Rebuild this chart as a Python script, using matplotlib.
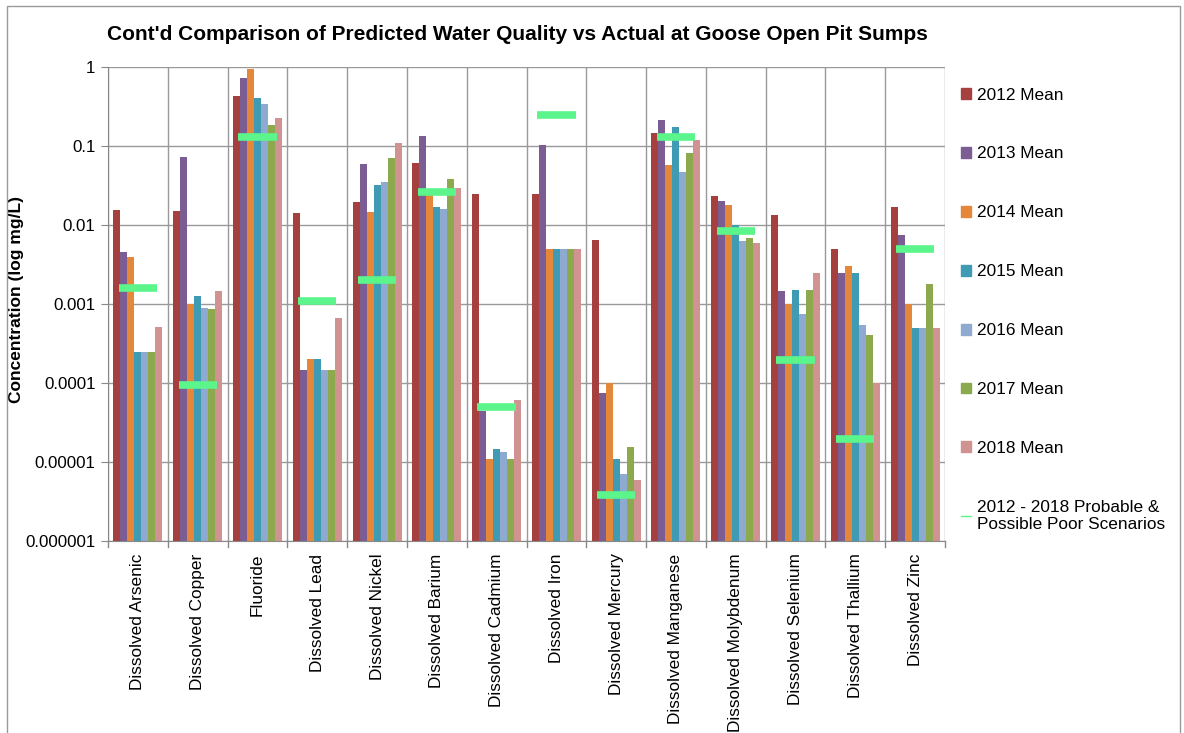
import matplotlib
matplotlib.use("Agg")
import matplotlib.pyplot as plt
import numpy as np
from matplotlib.patches import Rectangle
from matplotlib.lines import Line2D

plt.rcParams['font.family'] = ['Liberation Sans', 'DejaVu Sans']

categories = ["Dissolved Arsenic", "Dissolved Copper", "Fluoride", "Dissolved Lead",
              "Dissolved Nickel", "Dissolved Barium", "Dissolved Cadmium", "Dissolved Iron",
              "Dissolved Mercury", "Dissolved Manganese", "Dissolved Molybdenum",
              "Dissolved Selenium", "Dissolved Thallium", "Dissolved Zinc"]

mean_2012 = [0.0156, 0.0149, 0.43, 0.0142, 0.0194, 0.0615, 0.025, 0.025, 0.0065, 0.147, 0.0235, 0.0134, 0.005, 0.017]
mean_2013 = [0.0046, 0.072, 0.72, 0.000146, 0.06, 0.133, 0.0000434, 0.103, 0.0000743, 0.213, 0.020, 0.00148, 0.0025, 0.0075]
mean_2014 = [0.0039, 0.001, 0.93, 0.0002, 0.0148, 0.024, 0.00001, 0.005, 0.0000977, 0.057, 0.0177, 0.001, 0.003, 0.001]
mean_2015 = [0.000245, 0.00126, 0.40, 0.0002, 0.032, 0.017, 0.0000135, 0.005, 0.00001, 0.175, 0.0099, 0.0015, 0.0025, 0.00049]
mean_2016 = [0.000245, 0.00089, 0.34, 0.000146, 0.035, 0.016, 0.0000125, 0.005, 0.000006, 0.047, 0.0063, 0.00074, 0.00054, 0.00049]
mean_2017 = [0.000245, 0.00086, 0.185, 0.000146, 0.07, 0.038, 0.00001, 0.005, 0.0000145, 0.082, 0.0068, 0.0015, 0.0004, 0.0018]
mean_2018 = [0.00051, 0.00145, 0.226, 0.00066, 0.11, 0.0295, 0.0000597, 0.005, 0.0000049, 0.12, 0.006, 0.0025, 0.0001, 0.00049]
scenario = [0.00158, 0.000093, 0.13, 0.0011, 0.002, 0.0264, 0.00005, 0.247, 0.0000038, 0.13, 0.0085, 0.000195, 0.0000195, 0.005]

series_labels = ["2012 Mean", "2013 Mean", "2014 Mean", "2015 Mean", "2016 Mean", "2017 Mean", "2018 Mean"]
series = [mean_2012, mean_2013, mean_2014, mean_2015, mean_2016, mean_2017, mean_2018]
colors = ['#A5403E', '#7B5C93', '#E4873B', '#3E9BB3', '#8FAAD1', '#8CA94D', '#D09391']
scen_label = "2012 - 2018 Probable &\nPossible Poor Scenarios"
scen_color = '#5CF58C'

fig = plt.figure(figsize=(11.84, 7.33), dpi=100)
ax = fig.add_axes([108/1184, 1-541/733, (945-108)/1184, (541-67)/733])

x = np.arange(len(categories))
bw = 0.117
n = len(series)
for i, (vals, col) in enumerate(zip(series, colors)):
    ax.bar(x + (i - (n-1)/2)*bw, vals, width=bw, color=col, bottom=1e-6, align='center', zorder=2)
for xi, v in zip(x, scenario):
    ax.plot([xi-0.32, xi+0.32], [v, v], color=scen_color, lw=5.5, solid_capstyle='butt', zorder=3)

ax.set_yscale('log')
ax.set_ylim(1e-6, 1)
ax.set_xlim(-0.5, len(categories)-0.5)
yt = [1, 0.1, 0.01, 0.001, 0.0001, 0.00001, 0.000001]
ax.set_yticks(yt)
ax.set_yticklabels(["1", "0.1", "0.01", "0.001", "0.0001", "0.00001", "0.000001"], fontsize=12.2)
ax.yaxis.set_minor_locator(matplotlib.ticker.NullLocator())
ax.set_xticks(x)
ax.set_xticklabels(categories, rotation=90, fontsize=12.4, va='top')
ax.tick_params(axis='x', length=0, pad=9)
ax.tick_params(axis='y', length=5, color='#888888', pad=4)
for b in np.arange(-0.5, len(categories)+0.5, 1):
    ax.axvline(b, color='#999999', lw=1, zorder=1)
    ax.plot([b, b], [1e-6, 10**(-6.07)], color='#888888', lw=1, clip_on=False)
ax.grid(axis='y', color='#999999', lw=1, zorder=1)
ax.set_axisbelow(True)
for s in ['top', 'right']:
    ax.spines[s].set_visible(False)
ax.spines['left'].set_color('#888888')
ax.spines['bottom'].set_color('#888888')

ax.set_ylabel("Concentration (log mg/L)", fontsize=12.5, fontweight='bold', va='center')
ax.yaxis.set_label_coords((17-108)/837, (541-300)/474)
fig.text(517/1184, 1-35/733, "Cont'd Comparison of Predicted Water Quality vs Actual at Goose Open Pit Sumps",
         fontsize=15, fontweight='bold', ha='center', va='center')

handles = [Rectangle((0, 0), 1, 1, color=c) for c in colors]
handles.append(Line2D([], [], color=scen_color, lw=1))
leg = fig.legend(handles, series_labels + [scen_label], loc='upper left',
                 bbox_to_anchor=(945/1184, 1-72/733), frameon=False, fontsize=12.4,
                 handlelength=0.6, handleheight=0.6, handletextpad=0.35, labelspacing=2.55)

fig.patches.append(Rectangle((7/1184, -0.01), (1180-7)/1184, 1-6/733+0.01, transform=fig.transFigure,
                             fill=False, edgecolor='#999999', lw=1))

fig.savefig("out.png", dpi=100)
